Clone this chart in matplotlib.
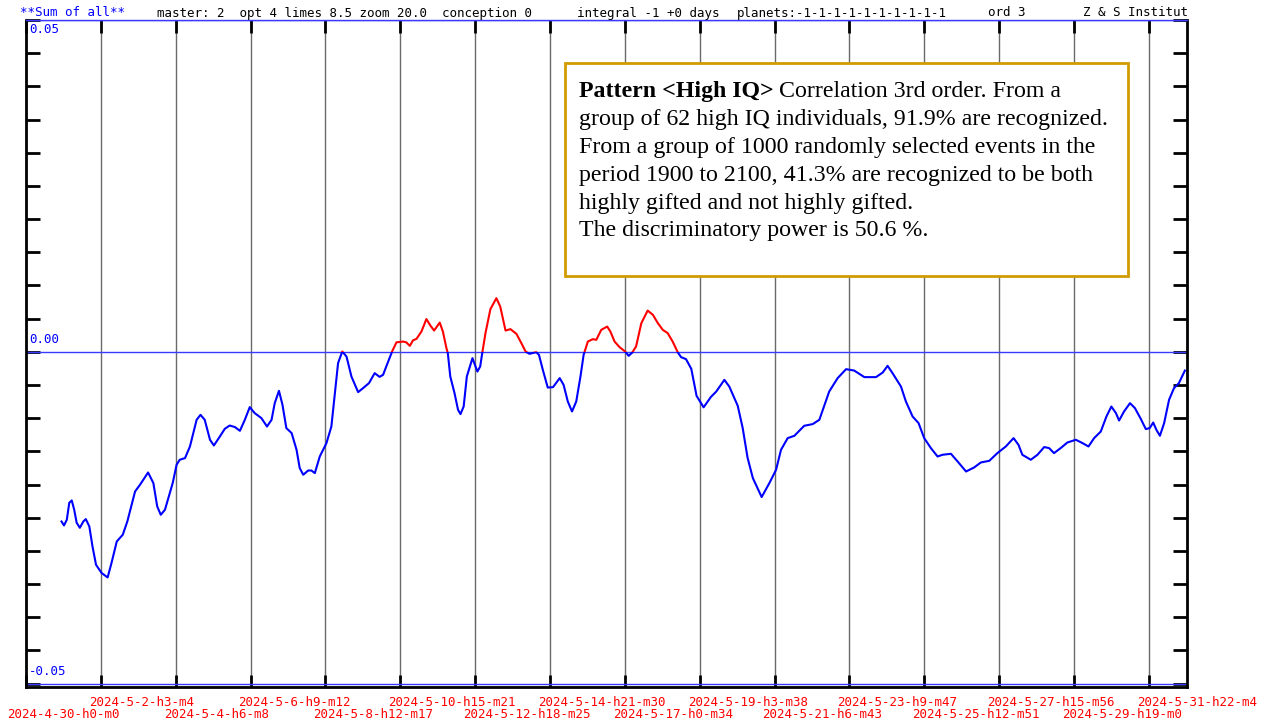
import numpy as np
import matplotlib
matplotlib.use('Agg')
import matplotlib.pyplot as plt
from matplotlib.patches import Rectangle
import matplotlib.transforms as mtransforms

# days since 2024-4-30 h0 m0
day = [1.01, 1.08, 1.16, 1.23, 1.30, 1.37, 1.44, 1.53, 1.63, 1.70, 1.80, 1.89, 1.99,
       2.15, 2.32, 2.43, 2.58, 2.75, 2.88, 3.10, 3.24, 3.47, 3.62, 3.73, 3.83, 3.95,
       4.17, 4.28, 4.37, 4.52, 4.66, 4.85, 4.96, 5.08, 5.23, 5.34, 5.51, 5.65, 5.79,
       5.94, 6.08, 6.22, 6.36, 6.50, 6.69, 6.85, 6.98, 7.07, 7.19, 7.29, 7.40, 7.55,
       7.69, 7.78, 7.88, 8.02, 8.11, 8.21, 8.35, 8.54, 8.68, 8.78, 8.87, 8.99, 9.11,
       9.25, 9.44, 9.58, 9.75, 9.91, 10.05, 10.15, 10.24, 10.41, 10.53, 10.72, 10.81,
       10.91, 11.00, 11.10, 11.24, 11.38, 11.49, 11.60, 11.76, 11.85, 11.95, 11.99,
       12.06, 12.18, 12.28, 12.35, 12.44, 12.53, 12.69, 12.83, 12.91, 12.96, 13.06,
       13.20, 13.37, 13.48, 13.63, 13.77, 13.94, 14.08, 14.20, 14.31, 14.50, 14.58,
       14.69, 14.83, 14.98, 15.17, 15.28, 15.40, 15.52, 15.64, 15.76, 15.85, 15.97,
       16.11, 16.21, 16.35, 16.52, 16.61, 16.73, 16.87, 17.03, 17.13, 17.23, 17.34,
       17.49, 17.67, 17.82, 17.96, 18.10, 18.24, 18.38, 18.53, 18.62, 18.76, 18.91,
       19.06, 19.26, 19.47, 19.62, 19.85, 19.99, 20.23, 20.37, 20.51, 20.66, 20.91,
       21.13, 21.32, 21.46, 21.65, 21.84, 22.12, 22.36, 22.55, 22.83, 23.07, 23.31,
       23.54, 23.83, 24.16, 24.35, 24.49, 24.63, 24.87, 25.01, 25.20, 25.37, 25.53,
       25.72, 25.91, 26.05, 26.29, 26.48, 26.72, 26.95, 27.14, 27.38, 27.61, 27.85,
       28.07, 28.21, 28.32, 28.56, 28.75, 28.94, 29.08, 29.22, 29.41, 29.60, 29.84,
       30.03, 30.20, 30.36, 30.55, 30.71, 30.85, 30.98, 31.07, 31.21, 31.38, 31.52,
       31.69, 31.83, 31.94, 32.04, 32.13, 32.23, 32.35, 32.49, 32.63, 32.77, 32.94]

value = [-0.02556, -0.02616, -0.02530, -0.02274, -0.02239, -0.02379, -0.02575, -0.02651,
         -0.02556, -0.02520, -0.02631, -0.02932, -0.03208, -0.03333, -0.03399, -0.03182,
         -0.02857, -0.02756, -0.02556, -0.02104, -0.02003, -0.01818, -0.01977, -0.02330,
         -0.02455, -0.02379, -0.01977, -0.01702, -0.01626, -0.01601, -0.01426, -0.01024,
         -0.00949, -0.01024, -0.01325, -0.01411, -0.01276, -0.01160, -0.01110, -0.01134,
         -0.01190, -0.01024, -0.00833, -0.00923, -0.00998, -0.01125, -0.01024, -0.00773,
         -0.00587, -0.00798, -0.01149, -0.01224, -0.01476, -0.01751, -0.01852, -0.01788,
         -0.01788, -0.01827, -0.01577, -0.01375, -0.01125, -0.00622, -0.00170, 0.00005,
         -0.00071, -0.00372, -0.00607, -0.00547, -0.00471, -0.00321, -0.00377, -0.00346,
         -0.00221, 0.00010, 0.00143, 0.00155, 0.00143, 0.00090, 0.00173, 0.00196, 0.00306,
         0.00494, 0.00399, 0.00321, 0.00441, 0.00306, 0.00056, -0.00020, -0.00372,
         -0.00622, -0.00873, -0.00938, -0.00824, -0.00372, -0.00095, -0.00297, -0.00221,
         -0.00045, 0.00282, 0.00643, 0.00809, 0.00682, 0.00321, 0.00342, 0.00271, 0.00131,
         0.00005, -0.00030, -0.00005, -0.00045, -0.00271, -0.00538, -0.00532, -0.00396,
         -0.00497, -0.00748, -0.00899, -0.00748, -0.00372, -0.00045, 0.00155, 0.00191,
         0.00181, 0.00331, 0.00381, 0.00306, 0.00155, 0.00071, 0.00005, -0.00060, -0.00011,
         0.00080, 0.00432, 0.00622, 0.00557, 0.00432, 0.00331, 0.00282, 0.00155, -0.00011,
         -0.00080, -0.00110, -0.00256, -0.00663, -0.00836, -0.00678, -0.00598, -0.00422,
         -0.00523, -0.00813, -0.01145, -0.01596, -0.01902, -0.02188, -0.01977, -0.01777,
         -0.01476, -0.01300, -0.01265, -0.01114, -0.01089, -0.01024, -0.00598, -0.00396,
         -0.00261, -0.00282, -0.00381, -0.00381, -0.00312, -0.00211, -0.00321, -0.00523,
         -0.00748, -0.00974, -0.01074, -0.01300, -0.01450, -0.01577, -0.01551, -0.01536,
         -0.01652, -0.01803, -0.01742, -0.01667, -0.01642, -0.01526, -0.01426, -0.01300,
         -0.01401, -0.01551, -0.01626, -0.01551, -0.01435, -0.01450, -0.01526, -0.01450,
         -0.01366, -0.01325, -0.01375, -0.01426, -0.01300, -0.01200, -0.00974, -0.00824,
         -0.00923, -0.01035, -0.00899, -0.00773, -0.00848, -0.01014, -0.01164, -0.01149,
         -0.01065, -0.01175, -0.01265, -0.01074, -0.00723, -0.00547, -0.00471, -0.00282]

tick_days = [0.0, 2.128, 4.256, 6.383, 8.511, 10.639, 12.767, 14.894, 17.022,
             19.150, 21.278, 23.406, 25.533, 27.661, 29.789, 31.917]
tick_labels = ['2024-4-30-h0-m0', '2024-5-2-h3-m4', '2024-5-4-h6-m8', '2024-5-6-h9-m12',
               '2024-5-8-h12-m17', '2024-5-10-h15-m21', '2024-5-12-h18-m25',
               '2024-5-14-h21-m30', '2024-5-17-h0-m34', '2024-5-19-h3-m38',
               '2024-5-21-h6-m43', '2024-5-23-h9-m47', '2024-5-25-h12-m51',
               '2024-5-27-h15-m56', '2024-5-29-h19-m0', '2024-5-31-h22-m4']
y_labels = ['0.05', '0.00', '-0.05']
y_label_pos = [0.0485, 0.0018, -0.0482]

box_lines = ['Correlation 3rd order. From a',
             'group of 62 high IQ individuals, 91.9% are recognized.',
             'From a group of 1000 randomly selected events in the',
             'period 1900 to 2100, 41.3% are recognized to be both',
             'highly gifted and not highly gifted.',
             'The discriminatory power is 50.6 %.']

W, H = 1263, 722
fig = plt.figure(figsize=(W / 100, H / 100), dpi=100)
ax = fig.add_axes([26 / W, 35 / H, 1161 / W, 667 / H])
ax.set_xlim(0, 33)
ax.set_ylim(-0.0505, 0.05)

mono = 'DejaVu Sans Mono'
blue = '#0000ff'
hblue = '#3a3aff'

# grid lines
for t in tick_days[1:]:
    ax.axvline(t, color='#6a6a6a', lw=1, zorder=1)
for h in (0.05, 0.0, -0.05):
    ax.axhline(h, color=hblue, lw=1, zorder=2)

# curve: blue below zero, red above
below = Rectangle((-1, -1), 40, 1, transform=ax.transData)
above = Rectangle((-1, 0), 40, 1, transform=ax.transData)
lb, = ax.plot(day, value, color=blue, lw=1.5, zorder=3, solid_joinstyle='round')
lb.set_clip_path(below)
lr, = ax.plot(day, value, color='#ff0000', lw=1.5, zorder=3, solid_joinstyle='round')
lr.set_clip_path(above)

# axes frame and ticks
for s in ('left', 'right', 'bottom'):
    ax.spines[s].set_linewidth(2)
    ax.spines[s].set_color('black')
ax.spines['top'].set_color(hblue)
ax.spines['top'].set_linewidth(1)
ax.set_yticks(np.linspace(-0.05, 0.05, 21))
ax.set_xticks(tick_days)
ax.tick_params(axis='y', direction='in', length=10, width=2, left=True, right=True,
               labelleft=False)
ax.tick_params(axis='x', direction='in', length=9, width=2, top=True, bottom=True,
               labelbottom=False)

# y labels
ytr = mtransforms.offset_copy(ax.get_yaxis_transform(), fig=fig, x=3 / 100, y=0,
                              units='inches')
for lab, yp in zip(y_labels, y_label_pos):
    ax.text(0, yp, lab, transform=ytr, family=mono, fontsize=9, color=blue,
            va='center', ha='left')

# x labels, two staggered rows
for i, (t, lab) in enumerate(zip(tick_days, tick_labels)):
    dx = -19 if i == 0 else -12
    dy = -28 if i % 2 == 0 else -15
    tr = mtransforms.offset_copy(ax.get_xaxis_transform(), fig=fig, x=dx / 100, y=dy / 100,
                                 units='inches')
    ax.text(t, 0, lab, transform=tr, family=mono, fontsize=9, color='red',
            ha='left', va='center', clip_on=False)

# header line
hy = 1 - 13 / H
fig.text(20 / W, hy, '**Sum of all**', family=mono, fontsize=9, color=blue, va='center')
fig.text(157 / W, hy, 'master: 2  opt 4 limes 8.5 zoom 20.0  conception 0', family=mono,
         fontsize=9, va='center')
fig.text(577 / W, hy, 'integral -1 +0 days', family=mono, fontsize=9, va='center')
fig.text(737 / W, hy, 'planets:-1-1-1-1-1-1-1-1-1-1', family=mono, fontsize=9, va='center')
fig.text(988 / W, hy, 'ord 3', family=mono, fontsize=9, va='center')
fig.text(1083 / W, hy, 'Z & S Institut', family=mono, fontsize=9, va='center')

# info box
fig.patches.append(Rectangle((565 / W, 1 - 276 / H), 563 / W, 213 / H, transform=fig.transFigure,
                             facecolor='white', edgecolor='#d09c00', lw=2, zorder=5))
serif = 'Liberation Serif'
fs = 17.2
t0 = fig.text(579 / W, 1 - 97 / H, 'Pattern <High IQ>', family=serif, fontsize=fs,
              weight='bold', va='baseline', zorder=6)
fig.canvas.draw()
bb = t0.get_window_extent()
fig.text(bb.x1 / W + 5 / W, 1 - 97 / H, box_lines[0], family=serif, fontsize=fs,
         va='baseline', zorder=6)
for i, line in enumerate(box_lines[1:], start=1):
    fig.text(579 / W, 1 - (97 + 27.9 * i) / H, line, family=serif, fontsize=fs,
             va='baseline', zorder=6)

fig.savefig('out.png', dpi=100)
